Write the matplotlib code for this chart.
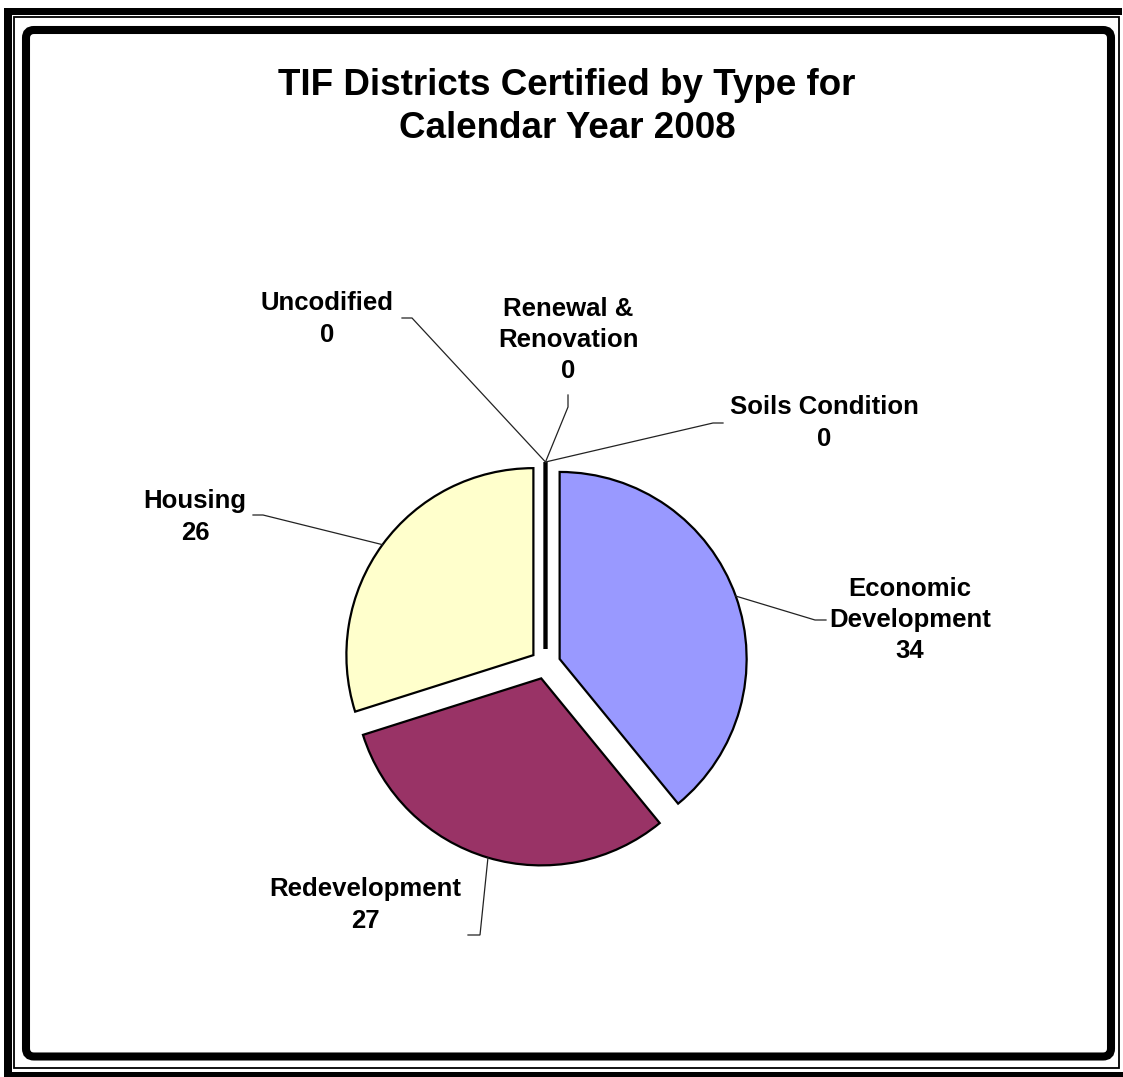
import math

import matplotlib
matplotlib.use("Agg")
import matplotlib.pyplot as plt
from matplotlib.patches import FancyBboxPatch, Rectangle

W, H = 1123, 1077

# data
categories = [
    "Economic\nDevelopment",
    "Redevelopment",
    "Housing",
    "Uncodified",
    "Renewal &\nRenovation",
    "Soils Condition",
]
values = [34, 27, 26, 0, 0, 0]
colors = ["#9999FF", "#993366", "#FFFFCC", "#FFFFFF", "#FFFFFF", "#FFFFFF"]
title = "TIF Districts Certified by Type for\nCalendar Year 2008"

# label layout in pixel coordinates (y measured from the top):
# text centre, elbow point of the leader, end of the short horizontal tick
label_pos = [(910, 620), (365, 905), (195, 517), (327, 319), (568, 340), (824, 423)]
elbow = [(815, 620), (480, 935), (263, 515), (412, 318), (568, 407), (713, 423)]
tick_end = [(826, 620), (468, 935), (253, 515), (402, 318), (568, 395), (723, 423)]

plt.rcParams["font.family"] = ["Liberation Sans", "DejaVu Sans"]

fig = plt.figure(figsize=(W / 100, H / 100), dpi=100)
ax = fig.add_axes([0, 0, 1, 1])


def fy(y):
    return H - y


wedges, _ = ax.pie(
    values,
    colors=colors,
    startangle=90,
    counterclock=False,
    explode=[15] * len(values),
    radius=187,
    center=(545.5, fy(664)),
    wedgeprops=dict(edgecolor="black", linewidth=1.6),
)
for w, v in zip(wedges, values):
    if v == 0:
        w.set_linewidth(2.6)

ax.set_xlim(0, W)
ax.set_ylim(0, H)
ax.set_aspect("auto")
ax.axis("off")

for w, lab, v, tp, el, te in zip(wedges, categories, values, label_pos, elbow, tick_end):
    mid = math.radians((w.theta1 + w.theta2) / 2)
    ax_x = w.center[0] + w.r * math.cos(mid)
    ax_y = w.center[1] + w.r * math.sin(mid)
    ax.plot([ax_x, el[0], te[0]], [ax_y, fy(el[1]), fy(te[1])],
            color="#222222", lw=0.9, solid_joinstyle="miter", zorder=1)
    ax.text(tp[0], fy(tp[1]), f"{lab}\n{v}", ha="center", va="center",
            fontsize=18.5, fontweight="bold", linespacing=1.37)

ax.text(567, fy(107), title, ha="center", va="center",
        fontsize=26.5, fontweight="bold", linespacing=1.28)

# frame: thick/thin double border plus inner rounded thick box
ax.add_patch(Rectangle((14, fy(1068)), 1119 - 14, 1068 - 17, fill=False,
                       ec="black", lw=1.3, clip_on=False))
ax.add_patch(Rectangle((4, fy(1077)), 8, 1077 - 8, color="black", lw=0, clip_on=False))
ax.add_patch(Rectangle((4, fy(15)), 1122 - 4, 7, color="black", lw=0, clip_on=False))
ax.add_patch(Rectangle((4, 0), W - 4, 5, color="black", lw=0, clip_on=False))
ax.add_patch(FancyBboxPatch((26, fy(1056.5)), 1111 - 26, 1056.5 - 30,
                            boxstyle="round,pad=0,rounding_size=8",
                            fill=False, ec="black", lw=5.8, clip_on=False))

fig.savefig("out.png", dpi=100, facecolor="white")
